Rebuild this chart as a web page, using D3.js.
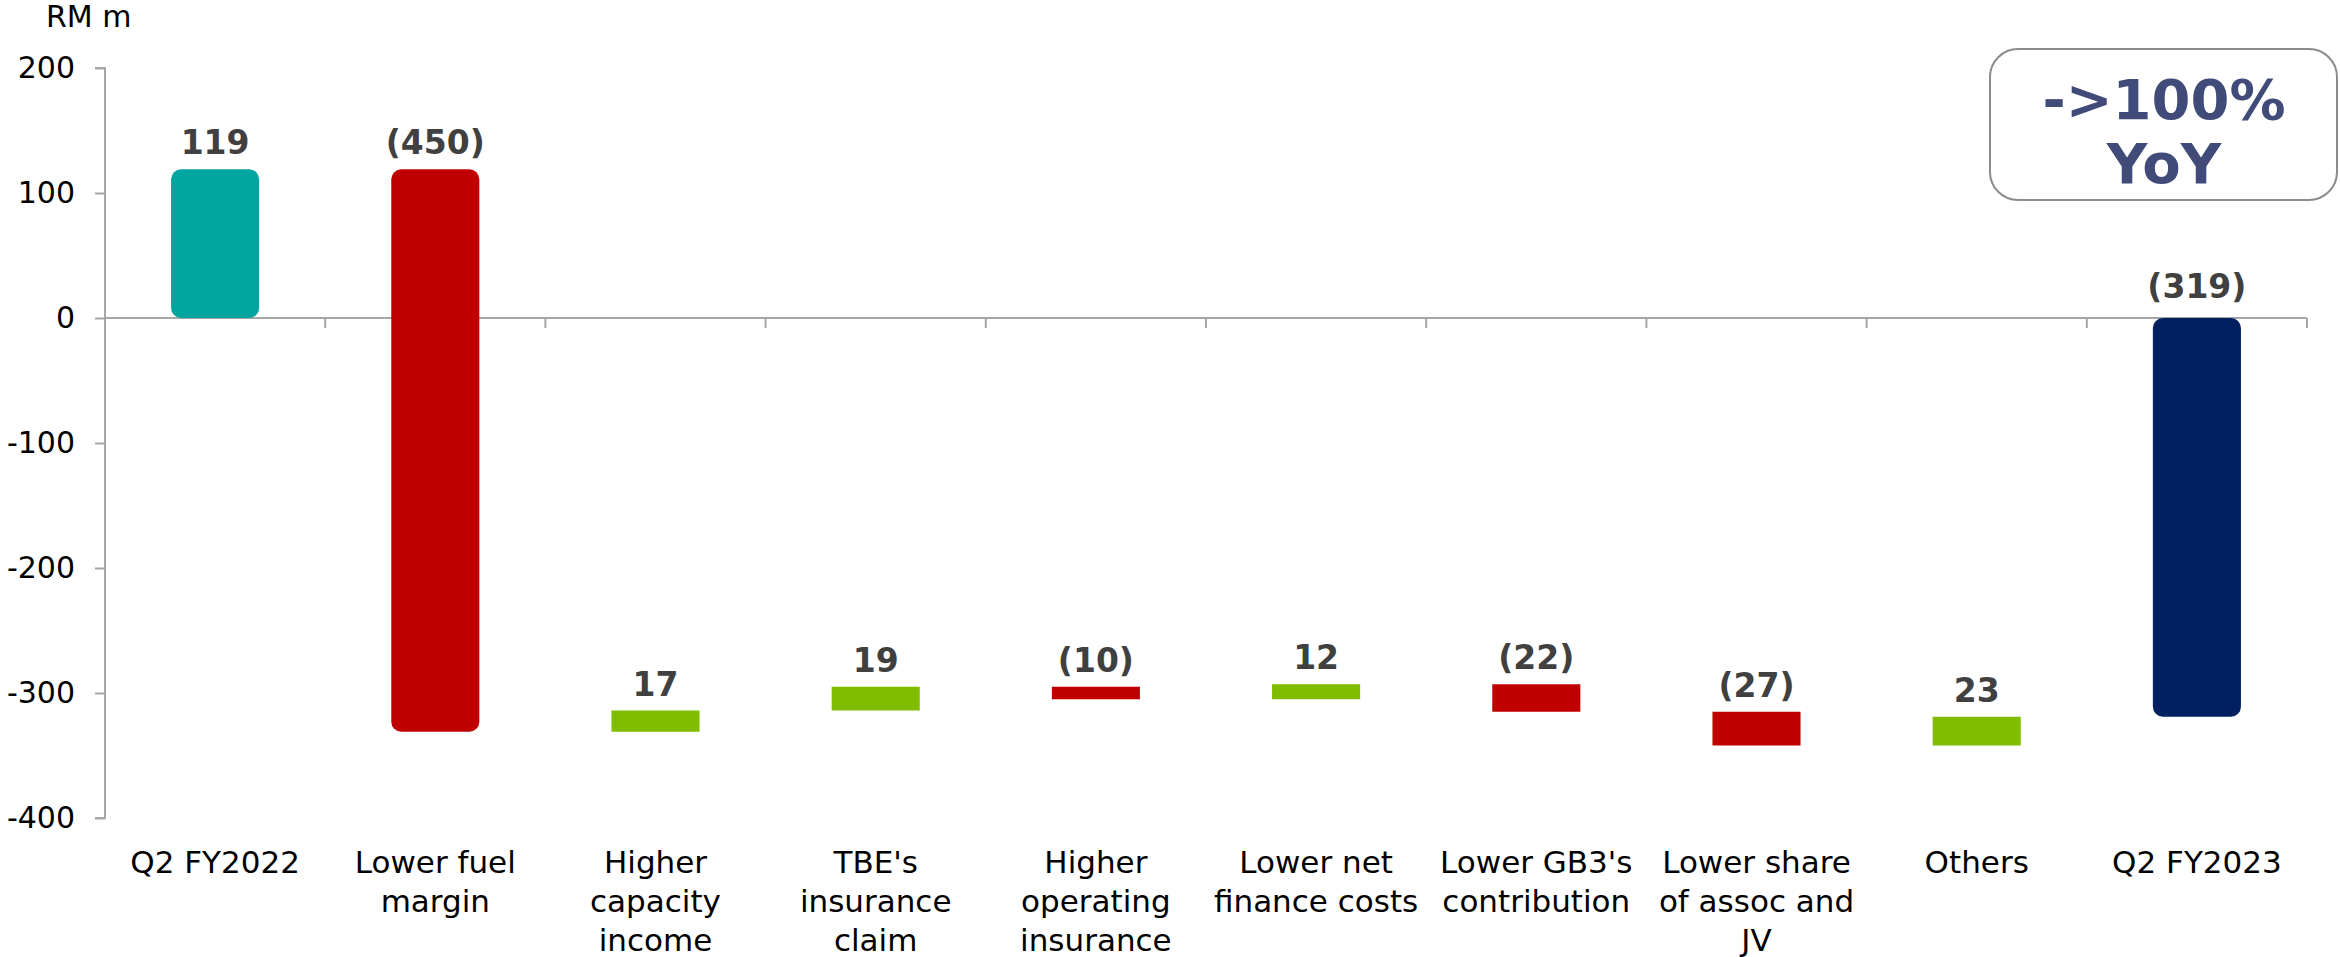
<!DOCTYPE html>
<html>
<head>
<meta charset="utf-8">
<script src="https://cdn.jsdelivr.net/npm/d3@7/dist/d3.min.js"></script>
<style>
  html, body { margin: 0; padding: 0; background: #fff; }
  svg { display: block; font-family: "DejaVu Sans", Verdana, sans-serif; }
</style>
</head>
<body>
<svg id="chart" width="2340" height="957"></svg>
<script>
// waterfall steps, RM m
const categories = [
  ["Q2 FY2022"],
  ["Lower fuel", "margin"],
  ["Higher", "capacity", "income"],
  ["TBE's", "insurance", "claim"],
  ["Higher", "operating", "insurance"],
  ["Lower net", "finance costs"],
  ["Lower GB3's", "contribution"],
  ["Lower share", "of assoc and", "JV"],
  ["Others"],
  ["Q2 FY2023"],
];
const changes = [119, -450, 17, 19, -10, 12, -22, -27, 23, -319];
const kinds = ["total", "step", "step", "step", "step", "step", "step", "step", "step", "total"];
const yTicks = [200, 100, 0, -100, -200, -300, -400];
const badgeLines = ["->100%", "YoY"];

const colors = { total0: "#00A59F", totalEnd: "#002060", up: "#80BD00", down: "#C00000" };

const svg = d3.select("#chart");

const x = d3.scaleBand()
  .domain(d3.range(categories.length))
  .range([105, 2307])
  .paddingInner(0.6)
  .paddingOuter(0.3);

const y = d3.scaleLinear().domain([-400, 200]).range([818, 68]);

// running totals
let run = 0;
const bars = changes.map((v, i) => {
  let start, end;
  if (kinds[i] === "total") {
    start = 0; end = v; run = v;
  } else {
    start = run; end = run + v; run = end;
  }
  let fill;
  if (i === 0) fill = colors.total0;
  else if (kinds[i] === "total") fill = colors.totalEnd;
  else fill = v >= 0 ? colors.up : colors.down;
  return { i, v, start, end, fill, total: kinds[i] === "total" };
});

// y axis (plain hyphen for negatives, as in the source)
const yAxis = svg.append("g")
  .attr("transform", "translate(105,0)")
  .call(d3.axisLeft(y).tickValues(yTicks).tickSize(10).tickPadding(20).tickFormat((d) => String(d)));
yAxis.select(".domain").attr("stroke", "#A6A6A6").attr("stroke-width", 2).attr("d", `M-10,${y(200)}H0V${y(-400)}H-10`);
yAxis.selectAll(".tick line").attr("stroke", "#A6A6A6").attr("stroke-width", 2);
yAxis.selectAll(".tick text").attr("fill", "#000").style("font-size", "30px").style("font-family", "DejaVu Sans");

// zero line with category ticks
const band = x.step();
svg.append("line")
  .attr("x1", 105).attr("x2", 2307)
  .attr("y1", y(0)).attr("y2", y(0))
  .attr("stroke", "#A6A6A6").attr("stroke-width", 2);
svg.append("g")
  .selectAll("line")
  .data(d3.range(categories.length + 1))
  .join("line")
  .attr("x1", (d) => 105 + d * band)
  .attr("x2", (d) => 105 + d * band)
  .attr("y1", y(0))
  .attr("y2", y(0) + 10)
  .attr("stroke", "#A6A6A6").attr("stroke-width", 2);

// bars
svg.append("g")
  .selectAll("rect")
  .data(bars)
  .join("rect")
  .attr("x", (d) => x(d.i))
  .attr("width", x.bandwidth())
  .attr("y", (d) => y(Math.max(d.start, d.end)))
  .attr("height", (d) => Math.abs(y(d.start) - y(d.end)))
  .attr("rx", (d) => (d.total || d.i === 1 ? 10 : 0))
  .attr("fill", (d) => d.fill);

// value labels
const fmt = (v) => (v < 0 ? `(${Math.abs(v)})` : `${v}`);
svg.append("g")
  .selectAll("text")
  .data(bars)
  .join("text")
  .attr("x", (d) => x(d.i) + x.bandwidth() / 2)
  .attr("y", (d) => y(Math.max(d.start, d.end)) - (d.total && d.v < 0 ? 20 : 15))
  .attr("text-anchor", "middle")
  .attr("fill", "#404040")
  .style("font-size", "33px")
  .style("font-weight", "bold")
  .text((d) => fmt(d.v));

// category labels
svg.append("g")
  .selectAll("text")
  .data(categories)
  .join("text")
  .attr("x", (d, i) => x(i) + x.bandwidth() / 2)
  .attr("y", 873)
  .attr("text-anchor", "middle")
  .attr("fill", "#000")
  .style("font-size", "31px")
  .selectAll("tspan")
  .data((d) => d)
  .join("tspan")
  .attr("x", function () { return d3.select(this.parentNode).attr("x"); })
  .attr("dy", (d, j) => (j === 0 ? 0 : 39))
  .text((d) => d);

// unit label
svg.append("text")
  .attr("x", 46).attr("y", 27)
  .attr("fill", "#000")
  .style("font-size", "30px")
  .text("RM m");

// badge
svg.append("rect")
  .attr("x", 1990).attr("y", 49)
  .attr("width", 347).attr("height", 151)
  .attr("rx", 28)
  .attr("fill", "#fff")
  .attr("stroke", "#8C8C8C")
  .attr("stroke-width", 2);
svg.append("g")
  .selectAll("text")
  .data(badgeLines)
  .join("text")
  .attr("x", 2164)
  .attr("y", (d, i) => 119 + i * 64)
  .attr("text-anchor", "middle")
  .attr("fill", "#414B7A")
  .style("font-size", "56px")
  .style("font-weight", "bold")
  .text((d) => d);
</script>
</body>
</html>
